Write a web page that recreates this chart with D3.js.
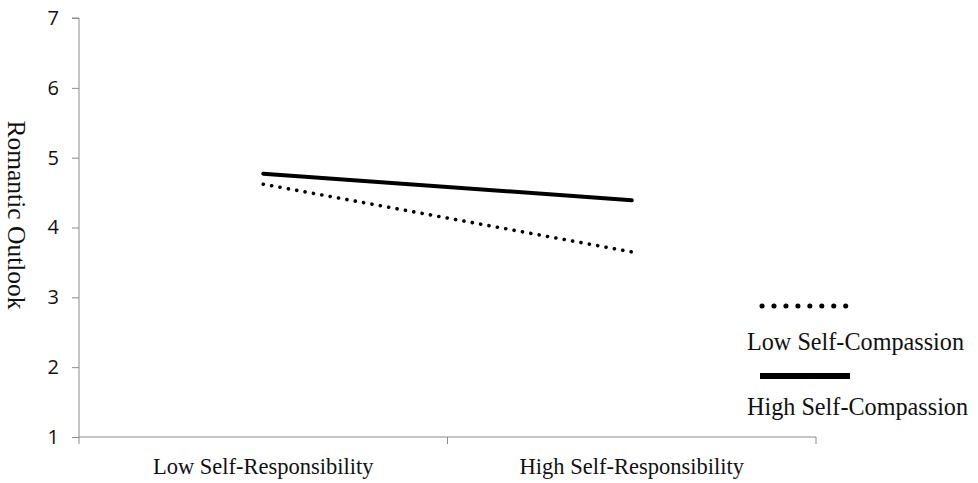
<!DOCTYPE html>
<html><head><meta charset="utf-8">
<script src="https://cdn.jsdelivr.net/npm/d3@7"></script>
<style>body{margin:0;background:#fff}</style>
</head><body><svg id="c" width="978" height="483"></svg>
<script>
const categories = ["Low Self-Responsibility", "High Self-Responsibility"];
const seriesNames = ["Low Self-Compassion", "High Self-Compassion"];
const lowSelfCompassion = [4.62, 3.65];
const highSelfCompassion = [4.77, 4.39];
const yTicks = [1, 2, 3, 4, 5, 6, 7];

const svg = d3.select("#c");
const mLeft = 79, mRight = 816, mTop = 18, mBottom = 437;
const x = d3.scaleBand().domain(categories).range([mLeft, mRight]);
const y = d3.scaleLinear().domain([1, 7]).range([mBottom, mTop]);
const axisColor = "#8c8c8c";
const serif = "'Liberation Serif', 'Times New Roman', serif";

// y axis
const ya = svg.append("g").attr("transform", `translate(${mLeft},0)`)
  .call(d3.axisLeft(y).tickValues(yTicks).tickSize(7).tickPadding(13).tickFormat(d3.format("d")));
ya.select(".domain").attr("stroke", axisColor).attr("d", `M-7,${mTop}H0V${mBottom}`);
ya.selectAll(".tick line").attr("stroke", axisColor);
ya.selectAll(".tick text").style("font-family", "'Open Sans', 'DejaVu Sans', sans-serif").style("font-size", "20px").attr("fill", "#111");

// x axis
const xa = svg.append("g").attr("transform", `translate(0,${mBottom})`);
xa.append("line").attr("x1", mLeft).attr("x2", mRight).attr("stroke", axisColor);
const bounds = [mLeft, ...categories.map(c => x(c) + x.bandwidth())];
xa.selectAll("line.t").data(bounds).enter().append("line").attr("class", "t")
  .attr("x1", d => d).attr("x2", d => d).attr("y1", 0).attr("y2", 7).attr("stroke", axisColor);
xa.selectAll("text").data(categories).enter().append("text")
  .attr("x", d => x(d) + x.bandwidth() / 2).attr("y", 37)
  .attr("text-anchor", "middle").attr("font-family", serif)
  .attr("font-size", 22.5).attr("fill", "#111").text(d => d);

// y title
svg.append("text").attr("transform", "translate(8,215) rotate(90)")
  .attr("text-anchor", "middle").attr("font-family", serif)
  .attr("font-size", 25.5).attr("fill", "#111").text("Romantic Outlook");

// lines
const line = d3.line().x((d, i) => x(categories[i]) + x.bandwidth() / 2).y(d => y(d));
svg.append("path").datum(lowSelfCompassion).attr("d", line).attr("fill", "none")
  .attr("stroke", "#000").attr("stroke-width", 3.6).attr("stroke-linecap", "round").attr("stroke-dasharray", "0.1 8.4");
svg.append("path").datum(highSelfCompassion).attr("d", line).attr("fill", "none")
  .attr("stroke", "#000").attr("stroke-width", 4).attr("stroke-linecap", "round");

// legend
const lg = svg.append("g");
lg.append("line").attr("x1", 762).attr("x2", 848).attr("y1", 306).attr("y2", 306)
  .attr("stroke", "#000").attr("stroke-width", 5).attr("stroke-linecap", "round").attr("stroke-dasharray", "0.1 11.85");
lg.append("line").attr("x1", 760).attr("x2", 850).attr("y1", 376).attr("y2", 376)
  .attr("stroke", "#000").attr("stroke-width", 6);
lg.selectAll("text").data(seriesNames).enter().append("text")
  .attr("x", 747).attr("y", (d, i) => 350 + i * 65)
  .attr("font-family", serif).attr("font-size", 24.2).attr("fill", "#111").text(d => d);
</script></body></html>
